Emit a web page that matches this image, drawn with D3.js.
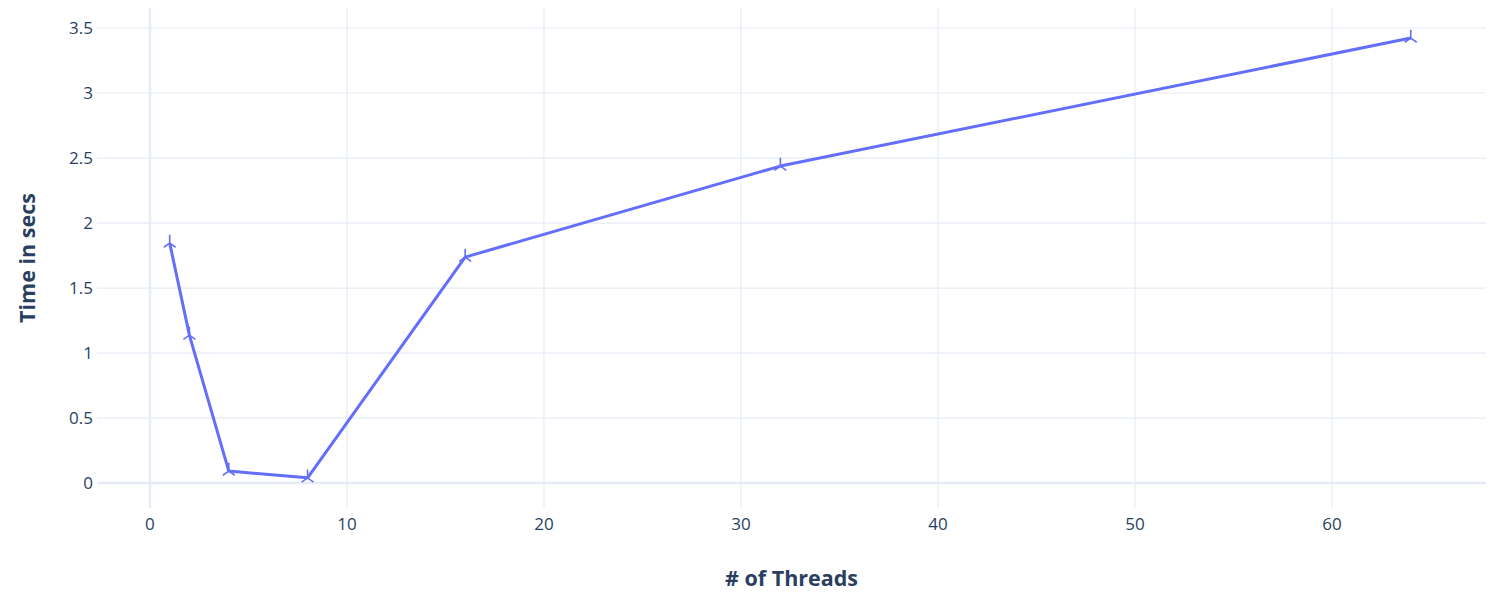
<!DOCTYPE html>
<html>
<head>
<meta charset="utf-8">
<script src="https://cdn.jsdelivr.net/npm/d3@7"></script>
<style>
  body { margin: 0; background: #fff; }
  text { font-family: "Open Sans", sans-serif; fill: #2a3f5f; }
</style>
</head>
<body>
<div id="chart"></div>
<script>
// thread counts and measured times
const threads = [1, 2, 4, 8, 16, 32, 64];
const timeSecs = [1.846, 1.138, 0.092, 0.04, 1.738, 2.438, 3.423];
const xTicks = [0, 10, 20, 30, 40, 50, 60];
const yTicks = [0, 0.5, 1, 1.5, 2, 2.5, 3, 3.5];

const width = 1496, height = 593;
const margin = {top: 8, right: 10, bottom: 85, left: 97};
const innerW = width - margin.left - margin.right;
const innerH = height - margin.top - margin.bottom;

const svg = d3.select("#chart").append("svg")
    .attr("width", width)
    .attr("height", height);

const x = d3.scaleLinear().domain([-2.69, 67.82]).range([0, innerW]);
const y = d3.scaleLinear().domain([-0.192, 3.654]).range([innerH, 0]);

const g = svg.append("g")
    .attr("transform", `translate(${margin.left},${margin.top})`);

// grid
g.selectAll(".xgrid").data(xTicks).enter().append("line")
    .attr("x1", d => x(d)).attr("x2", d => x(d))
    .attr("y1", 0).attr("y2", innerH)
    .attr("stroke", "#E6ECF5")
    .attr("stroke-width", d => d === 0 ? 2.5 : 1.2);

g.selectAll(".ygrid").data(yTicks).enter().append("line")
    .attr("x1", 0).attr("x2", innerW)
    .attr("y1", d => y(d)).attr("y2", d => y(d))
    .attr("stroke", "#E6ECF5")
    .attr("stroke-width", d => d === 0 ? 2.5 : 1.2);

// tick labels
g.selectAll(".xlab").data(xTicks).enter().append("text")
    .attr("x", d => x(d))
    .attr("y", innerH + 22)
    .attr("text-anchor", "middle")
    .attr("font-size", 17)
    .text(d => d);

g.selectAll(".ylab").data(yTicks).enter().append("text")
    .attr("x", -4)
    .attr("y", d => y(d))
    .attr("dy", "0.35em")
    .attr("text-anchor", "end")
    .attr("font-size", 17)
    .text(d => d);

// axis titles
svg.append("text")
    .attr("x", margin.left + innerW / 2)
    .attr("y", 586)
    .attr("text-anchor", "middle")
    .attr("font-size", 21.5)
    .attr("font-weight", "bold")
    .text("# of Threads");

svg.append("text")
    .attr("transform", `translate(35,${margin.top + innerH / 2}) rotate(-90)`)
    .attr("text-anchor", "middle")
    .attr("font-size", 21.5)
    .attr("font-weight", "bold")
    .text("Time in secs");

// line
const pts = threads.map((t, i) => ({x: t, y: timeSecs[i]}));
const line = d3.line().x(d => x(d.x)).y(d => y(d.y));

g.append("path")
    .datum(pts)
    .attr("d", line)
    .attr("fill", "none")
    .attr("stroke", "#636efa")
    .attr("stroke-width", 3)
    .attr("stroke-linejoin", "round");

// y-down-open markers
const r = 7;
g.selectAll(".marker").data(pts).enter().append("path")
    .attr("transform", d => `translate(${x(d.x)},${y(d.y)})`)
    .attr("d", `M0,0L0,${-r * 1.2}M0,0L${-r * 0.85},${r * 0.6}M0,0L${r * 0.85},${r * 0.6}`)
    .attr("fill", "none")
    .attr("stroke", "#636efa")
    .attr("stroke-width", 1.6);
</script>
</body>
</html>
